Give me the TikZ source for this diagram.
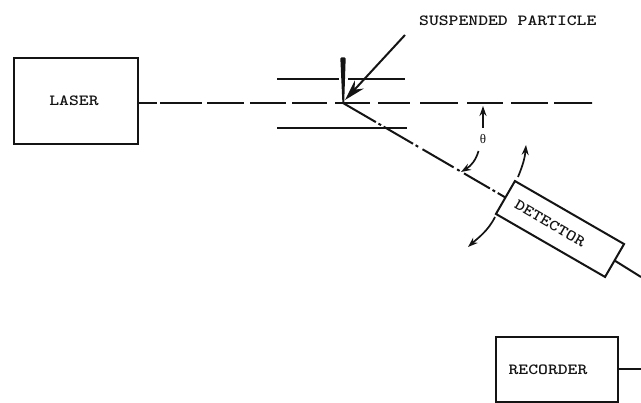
\documentclass[tikz,border=0pt]{standalone}
\usepackage{fontspec}
\usetikzlibrary{arrows.meta}
\newfontfamily\thetafont{Liberation Serif}
\newcommand{\wtext}[1]{\scalebox{1.21}[1]{#1}}
\definecolor{ink}{gray}{0.08}
\tikzset{
  box/.style={draw=ink,line width=2pt,fill=white,inner sep=0pt,outer sep=0pt,text=ink,
    font=\ttfamily\bfseries\fontsize{15.5}{16}\selectfont},
  wire/.style={draw=ink,line width=2pt},
  bar/.style={draw=ink,line width=2.2pt},
  pointer/.style={draw=ink,line width=1.7pt,-{Stealth[length=10pt,width=7pt]}},
  caption/.style={text=ink,inner sep=0pt,font=\ttfamily\bfseries\fontsize{15.5}{16}\selectfont},
  beamdash/.style={draw=ink,line width=2pt,dash pattern=on 19pt off 3pt on 42pt off 5pt on 37pt off 6pt on 36pt off 6pt on 35pt off 8pt on 35pt off 8pt on 32pt off 10pt on 38pt off 9pt on 36pt off 8pt on 37pt off 6pt on 38pt off 0pt},
  scatterdash/.style={draw=ink,line width=2pt,dash pattern=on 38pt off 3pt on 3pt off 3pt on 34pt off 3pt on 3pt off 5pt on 36pt off 4pt on 3pt off 5pt on 30pt off 3pt on 3pt off 3pt on 12pt off 0pt}
}
\begin{document}
\begin{tikzpicture}[x=1pt,y=-1pt]
\useasboundingbox (0,0) rectangle (641,403);
\fill[white] (0,0) rectangle (641,403);
\node[box,minimum width=124pt,minimum height=86pt] (laser) at (76,101) {\wtext{LASER}\kern4pt};
\node[box,minimum width=122pt,minimum height=65pt] (recorder) at (557,369.5) {\wtext{RECORDER}\kern18pt};
\node[box,minimum width=126pt,minimum height=38pt,rotate=-30] (detector) at (560,229) {\raisebox{-3.5pt}{\wtext{DETECTOR}}\kern23pt};
\coordinate (scatter) at (343,103);
\coordinate (beamend) at (592,103);
\coordinate (detout) at (641,277);
\coordinate (recout) at (641,369.5);
\draw[beamdash] (laser.east |- scatter) -- (beamend);
\draw[scatterdash] (scatter) -- (detector.west);
\draw[wire] (detector.east) -- (detout);
\draw[wire] (recorder.east) -- (recout);
% slits
\draw[bar] (277,79) -- (339,79);
\draw[bar] (348,79) -- (405,79);
\draw[bar] (277,128) -- (407,128);
% particle marker
\fill[ink,rounded corners=1pt] (340.3,57.5) -- (345.7,57.5) -- (344.2,103) -- (342.4,103) -- cycle;
% caption and its pointer
\node[caption,anchor=west] (susp) at (419,21) {\wtext{SUSPENDED PARTICLE}};
\coordinate (ptrstart) at (405,35);
\coordinate (ptrtip) at (345,100);
\draw[draw=ink,line width=2pt,-{Stealth[length=21pt,width=12pt]}] (ptrstart) -- (ptrtip);
% angle
\node[text=ink,inner sep=0pt,font=\thetafont\fontsize{13}{13}\selectfont] (theta) at (483,139) {θ};
\coordinate (angup) at (483,106);
\coordinate (angdown) at (461,172);
\draw[pointer] (483,128) -- (angup);
\draw[pointer] (478.5,151) .. controls (476,160) and (471,166) .. (angdown);
% swing arrows
\coordinate (swingup) at (526,145);
\coordinate (swingdown) at (468,247);
\draw[pointer] (518,177) .. controls (523,165) and (525,157) .. (swingup);
\draw[pointer] (495,217) .. controls (488,231) and (478,238) .. (swingdown);
\end{tikzpicture}
\end{document}
